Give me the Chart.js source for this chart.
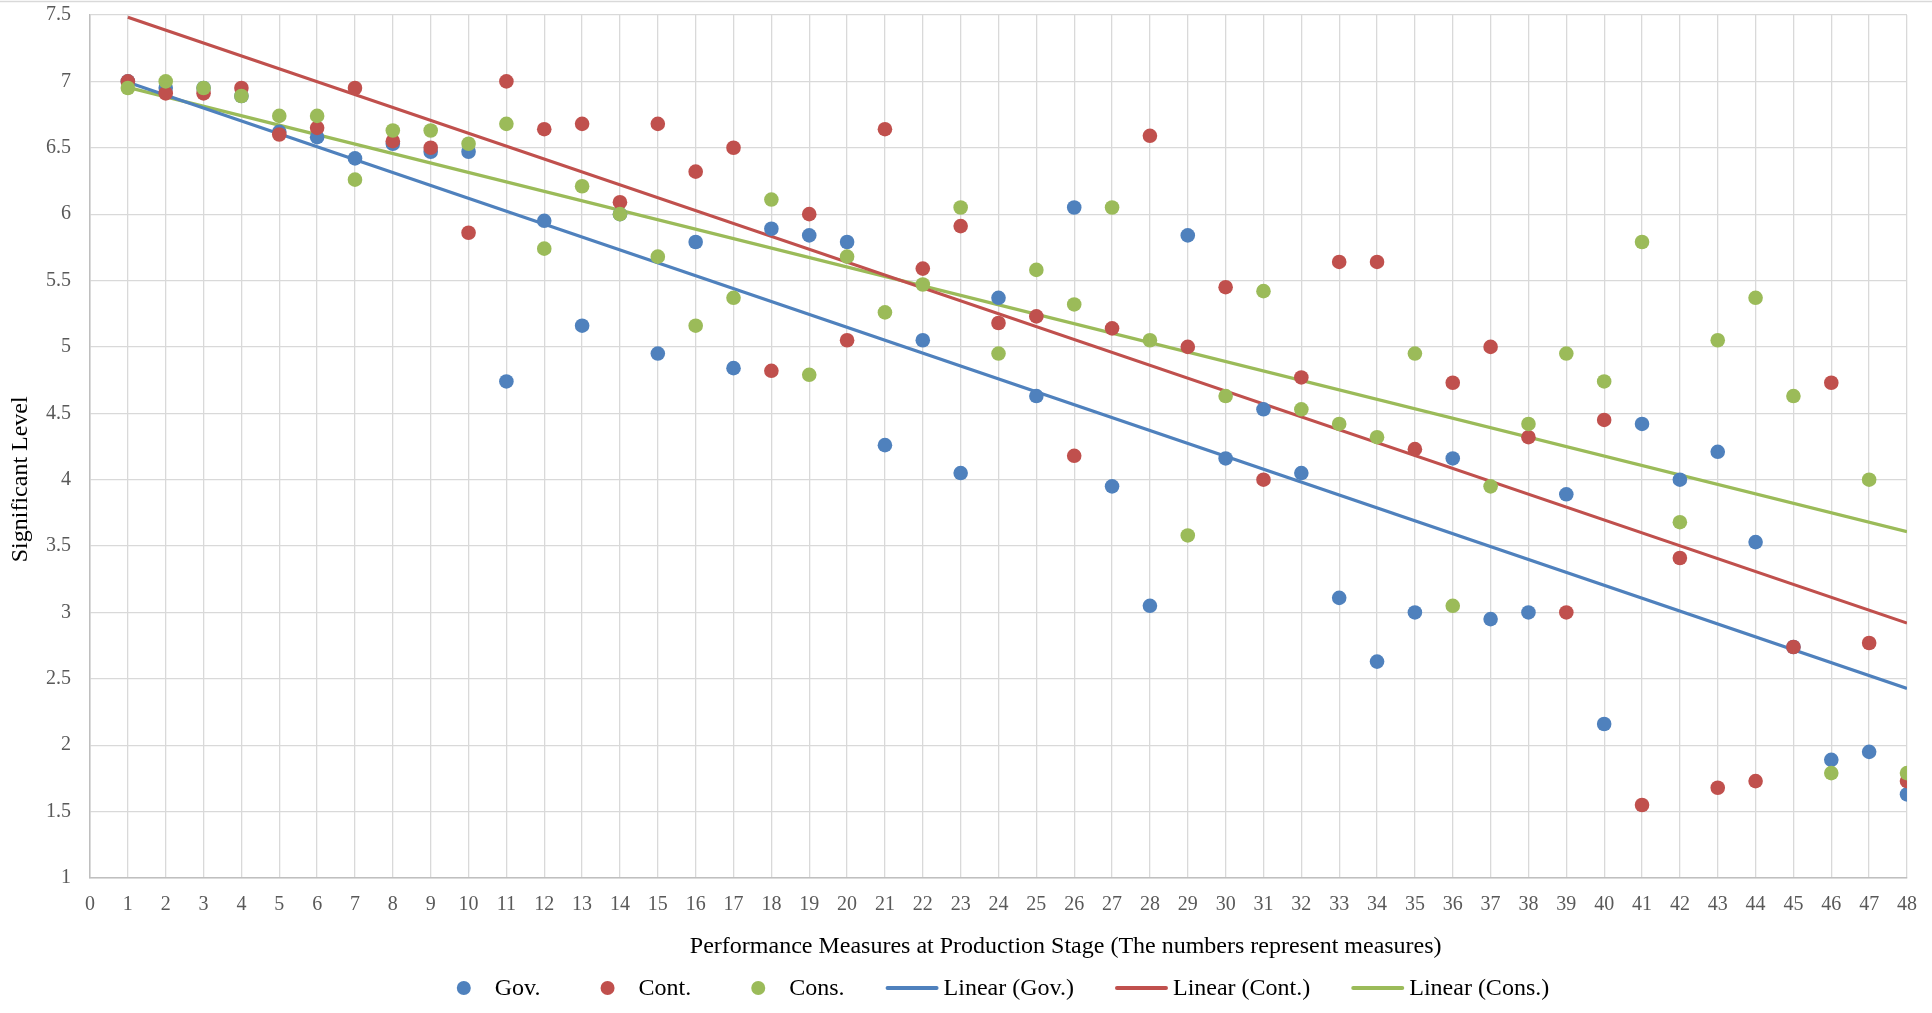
<!DOCTYPE html>
<html>
<head>
<meta charset="utf-8">
<script src="https://cdn.jsdelivr.net/npm/chart.js@4.4.1/dist/chart.umd.min.js"></script>
<style>
  html, body { margin: 0; padding: 0; background: #ffffff; }
  #wrap { width: 1932px; height: 1013px; }
</style>
</head>
<body>
<div id="wrap"><canvas id="chart" width="1932" height="1013"></canvas></div>
<script>
// Measure numbers (x) and the significance level given by each group (y)
const measures = [1,2,3,4,5,6,7,8,9,10,11,12,13,14,15,16,17,18,19,20,21,22,23,24,
                  25,26,27,28,29,30,31,32,33,34,35,36,37,38,39,40,41,42,43,44,45,46,47,48];
const gov  = [7.00,6.95,6.95,6.89,6.62,6.58,6.42,6.53,6.47,6.47,4.74,5.95,5.16,6.00,4.95,5.79,
              4.84,5.89,5.84,5.79,4.26,5.05,4.05,5.37,4.63,6.05,3.95,3.05,5.84,4.16,4.53,4.05,
              3.11,2.63,3.00,4.16,2.95,3.00,3.89,2.16,4.42,4.00,4.21,3.53,2.74,1.89,1.95,1.63];
const cont = [7.00,6.91,6.91,6.95,6.60,6.65,6.95,6.55,6.50,5.86,7.00,6.64,6.68,6.09,6.68,6.32,
              6.50,4.82,6.00,5.05,6.64,5.59,5.91,5.18,5.23,4.18,5.14,6.59,5.00,5.45,4.00,4.77,
              5.64,5.64,4.23,4.73,5.00,4.32,3.00,4.45,1.55,3.41,1.68,1.73,2.74,4.73,2.77,1.73];
const cons = [6.95,7.00,6.95,6.89,6.74,6.74,6.26,6.63,6.63,6.53,6.68,5.74,6.21,6.00,5.68,5.16,
              5.37,6.11,4.79,5.68,5.26,5.47,6.05,4.95,5.58,5.32,6.05,5.05,3.58,4.63,5.42,4.53,
              4.42,4.32,4.95,3.05,3.95,4.42,4.95,4.74,5.79,3.68,5.05,5.37,4.63,1.79,4.00,1.79];

const seriesNames  = ['Gov.', 'Cont.', 'Cons.'];
const seriesColors = ['#4F81BD', '#C0504D', '#9BBB59'];
const xTicksRange  = [0, 48];
const yTicksRange  = [1, 7.5];
const yTickStep    = 0.5;
const xTitleText   = 'Performance Measures at Production Stage (The numbers represent measures)';
const yTitleText   = 'Significant Level';

const FONT = '"Liberation Serif", "Times New Roman", serif';

// Least-squares straight line through a series
function linearFit(xs, ys) {
  const n = xs.length;
  let sx = 0, sy = 0, sxx = 0, sxy = 0;
  for (let i = 0; i < n; i++) {
    sx += xs[i]; sy += ys[i]; sxx += xs[i] * xs[i]; sxy += xs[i] * ys[i];
  }
  const slope = (n * sxy - sx * sy) / (n * sxx - sx * sx);
  const intercept = (sy - slope * sx) / n;
  return x => intercept + slope * x;
}

const seriesValues = [gov, cont, cons];
const pointSets = seriesValues.map(vals => measures.map((m, i) => ({ x: m, y: vals[i] })));
const trendSets = seriesValues.map(vals => {
  const f = linearFit(measures, vals);
  const x0 = measures[0], x1 = measures[measures.length - 1];
  return [{ x: x0, y: f(x0) }, { x: x1, y: f(x1) }];
});

const datasets = [];
seriesNames.forEach((name, i) => {
  datasets.push({
    label: name,
    data: pointSets[i],
    backgroundColor: seriesColors[i],
    borderColor: seriesColors[i],
    pointRadius: 7.3,
    pointHoverRadius: 7.3,
    pointBorderWidth: 0,
    showLine: false,
    order: 3 - i,
    legendKind: 'dot'
  });
});
seriesNames.forEach((name, i) => {
  datasets.push({
    label: 'Linear (' + name + ')',
    data: trendSets[i],
    borderColor: seriesColors[i],
    backgroundColor: seriesColors[i],
    borderWidth: 3.2,
    pointRadius: 0,
    showLine: true,
    order: 10 + i,
    legendKind: 'line'
  });
});

// Titles, legend and the frame line along the top
const decorations = {
  id: 'decorations',
  beforeDraw(chart) {
    const ctx = chart.ctx;
    ctx.save();
    ctx.fillStyle = '#ffffff';
    ctx.fillRect(0, 0, chart.width, chart.height);
    ctx.strokeStyle = '#D9D9D9';
    ctx.lineWidth = 1.5;
    ctx.beginPath();
    ctx.moveTo(0, 1.5);
    ctx.lineTo(chart.width, 1.5);
    ctx.stroke();
    ctx.restore();
  },
  afterDraw(chart) {
    const ctx = chart.ctx;
    const area = chart.chartArea;
    ctx.save();
    ctx.fillStyle = '#000000';
    ctx.textBaseline = 'middle';

    // axis titles
    ctx.font = '24px ' + FONT;
    ctx.textAlign = 'center';
    ctx.fillText(xTitleText, area.left + (area.right - area.left) * 0.537, area.bottom + 69);
    ctx.save();
    ctx.translate(21, area.top + (area.bottom - area.top) * 0.538);
    ctx.rotate(-Math.PI / 2);
    ctx.fillText(yTitleText, 0, 0);
    ctx.restore();

    // legend
    ctx.font = '24px ' + FONT;
    ctx.textAlign = 'left';
    const dotR = 7, dotGap = 31, lineLen = 53, lineGap = 5;
    const items = chart.data.datasets.map(ds => {
      const tw = ctx.measureText(ds.label).width;
      const lead = ds.legendKind === 'dot' ? dotGap + dotR : lineLen + lineGap;
      return { ds, tw, lead, w: lead + tw };
    });
    const gaps = items.map((it, k) => {
      if (k === items.length - 1) return 0;
      return items[k + 1].ds.legendKind === 'dot' ? 60 : 41;
    });
    const total = items.reduce((s, it, k) => s + it.w + gaps[k], 0);
    let x = 1003 - total / 2;
    const y = area.bottom + 110;
    items.forEach((it, k) => {
      const color = it.ds.borderColor;
      if (it.ds.legendKind === 'dot') {
        ctx.fillStyle = color;
        ctx.beginPath();
        ctx.arc(x + dotR, y, dotR, 0, Math.PI * 2);
        ctx.fill();
      } else {
        ctx.strokeStyle = color;
        ctx.lineWidth = 4;
        ctx.lineCap = 'round';
        ctx.beginPath();
        ctx.moveTo(x + 2, y);
        ctx.lineTo(x + lineLen - 2, y);
        ctx.stroke();
      }
      ctx.fillStyle = '#000000';
      ctx.fillText(it.ds.label, x + it.lead, y + 1);
      x += it.w + gaps[k];
    });
    ctx.restore();
  }
};

new Chart(document.getElementById('chart'), {
  type: 'scatter',
  data: { datasets },
  options: {
    responsive: false,
    animation: false,
    devicePixelRatio: 1,
    layout: { padding: { top: 15, right: 24, left: 0, bottom: 0 } },
    plugins: {
      legend: { display: false },
      tooltip: { enabled: false }
    },
    scales: {
      x: {
        type: 'linear',
        min: xTicksRange[0],
        max: xTicksRange[1],
        afterFit(scale) { scale.height = 135; },
        grid: { color: '#D9D9D9', lineWidth: 1.3, drawTicks: false },
        border: { color: '#BFBFBF', width: 1.5 },
        ticks: {
          stepSize: 1,
          autoSkip: false,
          maxRotation: 0,
          padding: 15,
          color: '#595959',
          font: { family: FONT, size: 20 }
        }
      },
      y: {
        min: yTicksRange[0],
        max: yTicksRange[1],
        afterFit(scale) {
          scale.width = 90;
          scale.paddingTop = 0;
          scale.paddingBottom = 0;
        },
        grid: { color: '#D9D9D9', lineWidth: 1.3, drawTicks: false },
        border: { color: '#BFBFBF', width: 1.5 },
        ticks: {
          stepSize: yTickStep,
          padding: 19,
          color: '#595959',
          font: { family: FONT, size: 20 },
          callback: v => String(Number(v.toFixed(1)))
        }
      }
    }
  },
  plugins: [decorations]
});
</script>
</body>
</html>
